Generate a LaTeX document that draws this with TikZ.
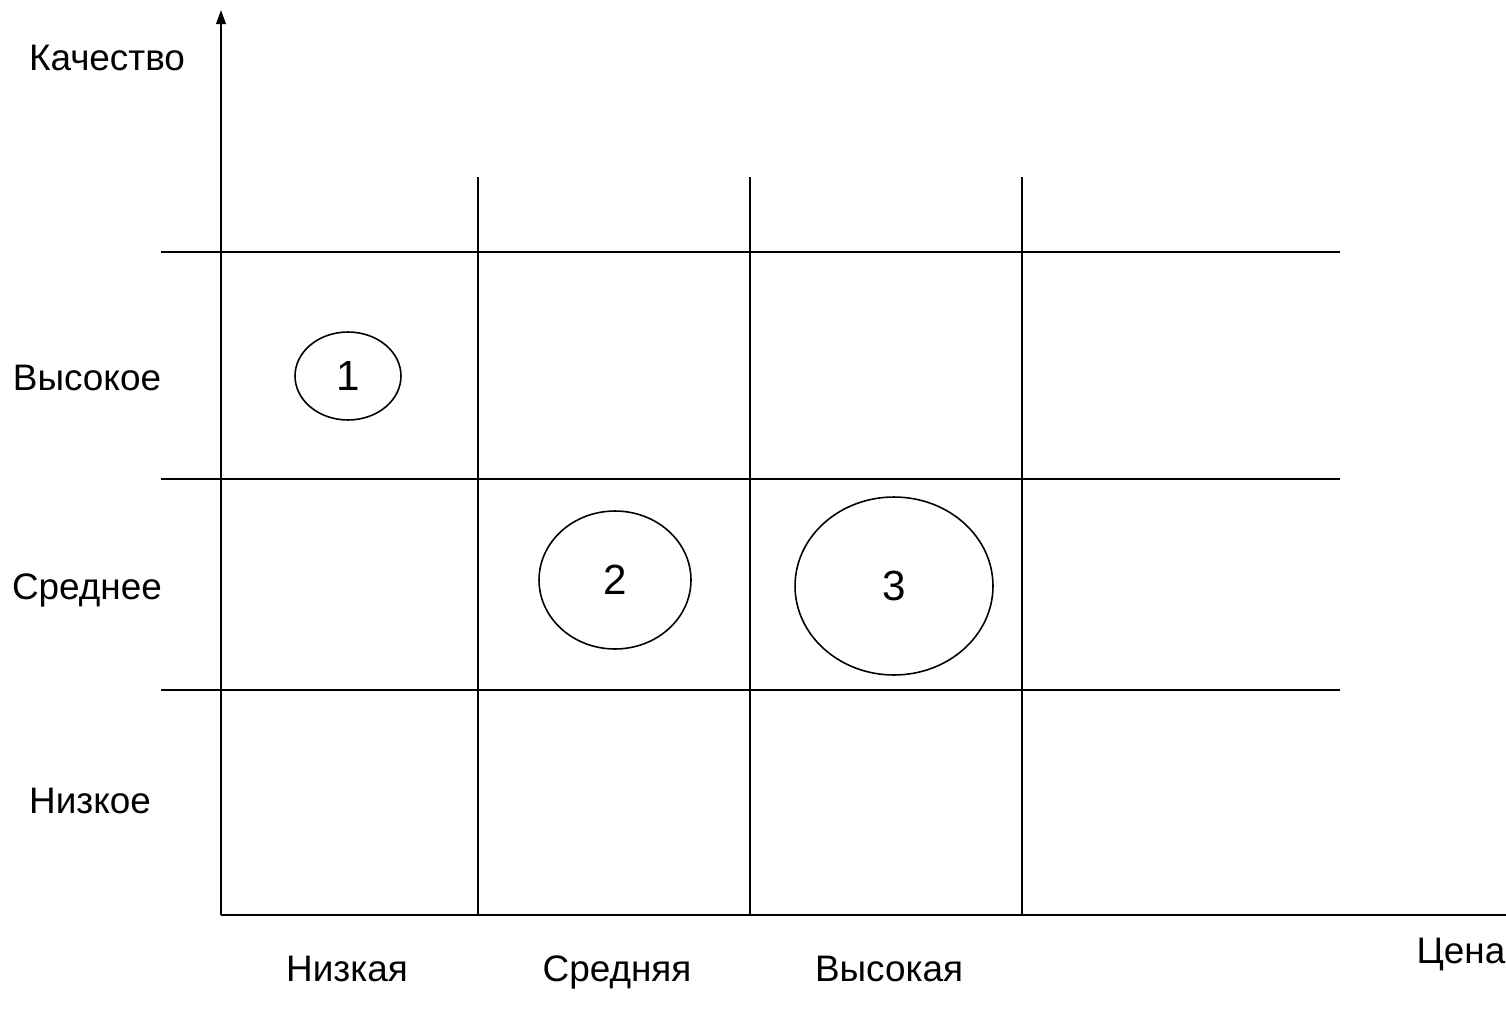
\documentclass[tikz,border=0pt]{standalone}
\usepackage{fontspec}
\setmainfont{Liberation Sans}
\usetikzlibrary{shapes,arrows.meta,positioning}

\begin{document}
\begin{tikzpicture}[x=0.02cm, y=-0.02cm,
    every node/.style={font=\fontsize{21}{25}\selectfont, text height=15pt, text depth=0pt},
    gridline/.style={line width=1.1pt},
    bubble/.style={draw, ellipse, line width=0.9pt, inner sep=0pt, text height=17pt, font=\fontsize{24}{28}\selectfont}]
            \useasboundingbox (0,0) rectangle (1506,1013);
            % axes
            \coordinate (origin) at (221,915);
            \coordinate (ytop) at (221,10);
            \coordinate (xend) at (1506,915);
            \draw[gridline, -{Triangle[length=8pt,width=5.5pt]}] (origin) -- (ytop);
            \draw[gridline] (origin) -- (xend);
            % grid
            \foreach \x in {478,750,1022}
                \draw[gridline] (\x,177) -- (\x,915);
            \foreach \y in {252,479,690}
                \draw[gridline] (161,\y) -- (1340,\y);
            % labels
            \node (quality) at (107,57) {Качество};
            \node (qhigh) at (87,377) {Высокое};
            \node (qmid) at (87,586) {Среднее};
            \node (qlow) at (90,800) {Низкое};
            \node (plow) at (347,968) {Низкая};
            \node (pmid) at (617,968) {Средняя};
            \node (phigh) at (889,968) {Высокая};
            \node (price) at (1461,950) {Цена};
            % products
            \node[bubble, minimum width=2.12cm, minimum height=1.76cm] (p1) at (348,376) {1};
            \node[bubble, minimum width=3.04cm, minimum height=2.76cm] (p2) at (615,580) {2};
            \node[bubble, minimum width=3.96cm, minimum height=3.56cm] (p3) at (894,586) {3};
        \end{tikzpicture}
\end{document}
